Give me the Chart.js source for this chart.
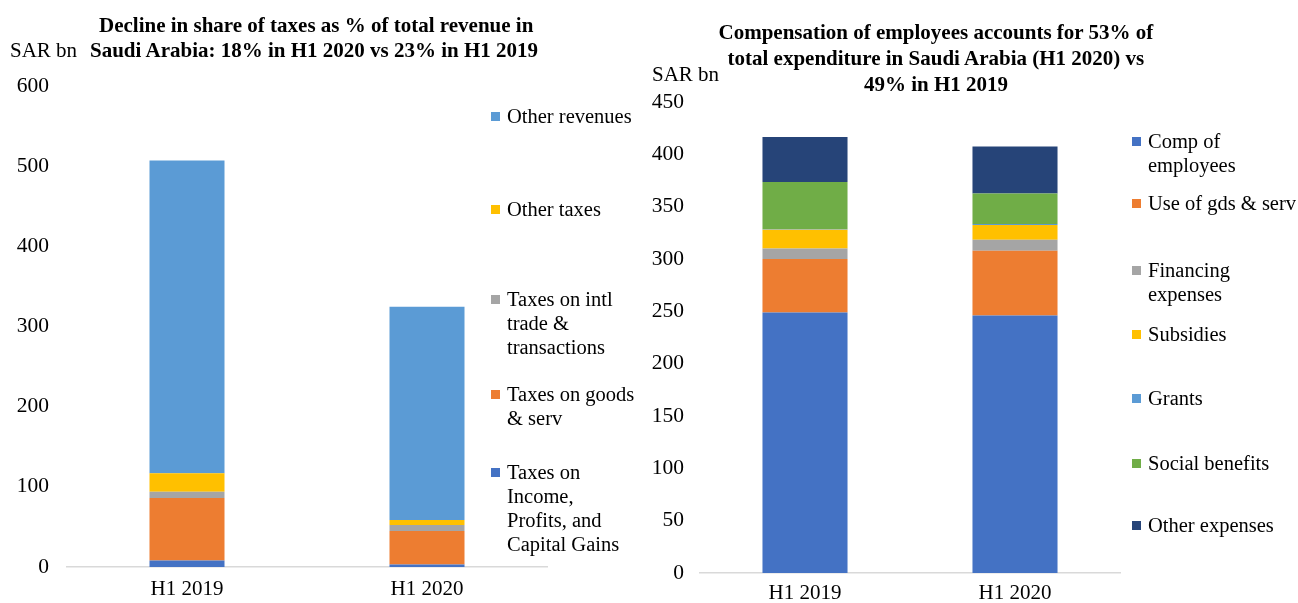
<!DOCTYPE html>
<html>
<head>
<meta charset="utf-8">
<script src="https://cdn.jsdelivr.net/npm/chart.js@4.4.0/dist/chart.umd.min.js"></script>
<style>
  body { margin: 0; background: #fff; font-family: "Liberation Serif", serif; }
  #page { position: relative; width: 1298px; height: 603px; overflow: hidden; }
  .box { position: absolute; top: 0; height: 603px; }
  .title { position: absolute; font-weight: bold; font-size: 21px; line-height: 26px; white-space: nowrap; color: #000; }
  .unit { position: absolute; font-size: 21px; color: #000; }
  .leg { position: absolute; font-size: 20.5px; line-height: 24px; color: #000; white-space: nowrap; }
  .leg i { position: absolute; left: -16px; top: 8px; width: 9px; height: 9px; }
</style>
</head>
<body>
<div id="page">
  <div class="box" style="left:0;width:650px"><canvas id="ingresos"></canvas></div>
  <div class="box" style="left:650px;width:648px"><canvas id="gastos"></canvas></div>

  <div class="title" id="t1a">Decline in share of taxes as % of total revenue in</div>
  <div class="title" id="t1b">Saudi Arabia: 18% in H1 2020 vs 23% in H1 2019</div>
  <div class="unit" style="left:10px;top:38px">SAR bn</div>

  <div class="title" id="t2a">Compensation of employees accounts for 53% of</div>
  <div class="title" id="t2b">total expenditure in Saudi Arabia (H1 2020) vs</div>
  <div class="title" id="t2c">49% in H1 2019</div>
  <div class="unit" style="left:652px;top:62px">SAR bn</div>
</div>
<script>
// Datos: ingresos (grafica izquierda)
var periodos = ["H1 2019", "H1 2020"];
var seriesIngresos = [["Taxes on", "Income,", "Profits, and", "Capital Gains"], ["Taxes on goods", "& serv"],
  ["Taxes on intl", "trade &", "transactions"], ["Other taxes"], ["Other revenues"]];
var impuestoRenta = [8, 3];
var impuestoBienes = [78, 42];
var impuestoComercio = [8, 7.5];
var otrosImpuestos = [23, 6];
var otrosIngresos = [390, 266];
var ticksIngresos = [0, 100, 200, 300, 400, 500, 600];

// Datos: gastos (grafica derecha)
var seriesGastos = [["Comp of", "employees"], ["Use of gds & serv"], ["Financing", "expenses"],
  ["Subsidies"], ["Grants"], ["Social benefits"], ["Other expenses"]];
var compEmpleados = [249, 246];
var usoBienes = [51, 62];
var financiamiento = [10, 10.5];
var subsidios = [18, 14];
var donaciones = [0.5, 1];
var beneficiosSociales = [45, 29];
var otrosGastos = [43, 45];
var ticksGastos = [0, 50, 100, 150, 200, 250, 300, 350, 400, 450];

var colIngresos = ["#4472C4", "#ED7D31", "#A5A5A5", "#FFC000", "#5B9BD5"];
var colGastos = ["#4472C4", "#ED7D31", "#A5A5A5", "#FFC000", "#5B9BD5", "#70AD47", "#264478"];

Chart.defaults.font.family = "'Liberation Serif', serif";
Chart.defaults.color = "#000";
Chart.defaults.animation = false;

function armarDatos(nombres, valores, colores, ancho) {
  return {
    labels: periodos,
    datasets: nombres.map(function (n, i) {
      return { label: n.join(" "), data: valores[i], backgroundColor: colores[i], borderWidth: 0,
        categoryPercentage: 1, barPercentage: ancho };
    })
  };
}

function crearGrafica(id, datos, ticks, layout) {
  return new Chart(document.getElementById(id), {
    type: "bar",
    data: datos,
    options: {
      responsive: true,
      maintainAspectRatio: false,
      layout: { padding: { top: layout.top, right: layout.right, bottom: 0, left: 0 } },
      plugins: { legend: { display: false }, tooltip: { enabled: false } },
      scales: {
        x: {
          stacked: true,
          grid: { display: false, drawTicks: false },
          border: { display: true, color: "#D9D9D9", width: 1.5 },
          ticks: { font: { size: 21 }, padding: layout.xpad, maxRotation: 0 },
          afterFit: function (s) { s.height = layout.xh; }
        },
        y: {
          stacked: true,
          min: ticks[0], max: ticks[ticks.length - 1],
          afterBuildTicks: function (s) { s.ticks = ticks.map(function (v) { return { value: v }; }); },
          grid: { display: false, drawTicks: false },
          border: { display: false },
          ticks: { font: { size: 21.5 }, padding: layout.ypad },
          afterFit: function (s) { s.width = layout.yw; }
        }
      }
    }
  });
}

crearGrafica("ingresos",
  armarDatos(seriesIngresos, [impuestoRenta, impuestoBienes, impuestoComercio, otrosImpuestos, otrosIngresos], colIngresos, 0.3125),
  ticksIngresos, { top: 86, right: 103, xh: 36, xpad: 10, yw: 67, ypad: 18 });

crearGrafica("gastos",
  armarDatos(seriesGastos, [compEmpleados, usoBienes, financiamiento, subsidios, donaciones, beneficiosSociales, otrosGastos], colGastos, 0.405),
  ticksGastos, { top: 102, right: 178, xh: 30, xpad: 8, yw: 50, ypad: 16 });

// Leyendas en HTML
function leyenda(nombres, colores, left, tops, invertir) {
  var page = document.getElementById("page");
  for (var k = 0; k < nombres.length; k++) {
    var i = invertir ? nombres.length - 1 - k : k;
    var d = document.createElement("div");
    d.className = "leg";
    d.style.left = left + "px";
    d.style.top = tops[k] + "px";
    d.innerHTML = '<i style="background:' + colores[i] + '"></i>' + nombres[i].join("<br>");
    page.appendChild(d);
  }
}
leyenda(seriesIngresos, colIngresos, 507, [104, 197, 287, 382, 460], true);
leyenda(seriesGastos, colGastos, 1148, [129, 191, 258, 322, 386, 451, 513], false);

// Titulos centrados
function titulo(id, cx, top) {
  var el = document.getElementById(id);
  el.style.left = (cx - el.offsetWidth / 2) + "px";
  el.style.top = top + "px";
}
titulo("t1a", 316, 12);
titulo("t1b", 314, 37);
titulo("t2a", 936, 19);
titulo("t2b", 936, 45);
titulo("t2c", 936, 71);
</script>
</body>
</html>
